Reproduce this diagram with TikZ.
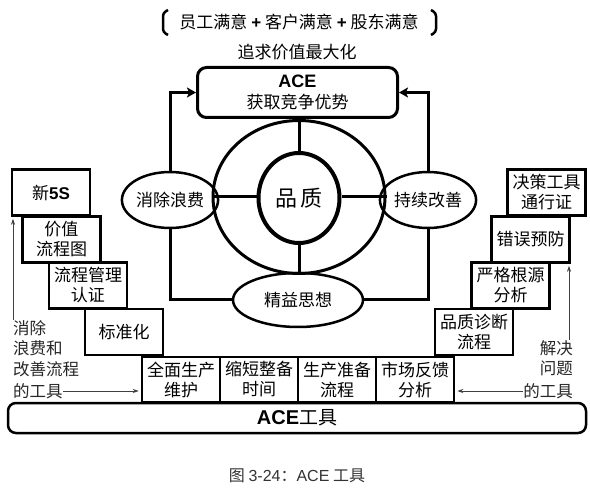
\documentclass[tikz,border=0pt]{standalone}
\usepackage{fontspec}
\setmainfont{Noto Sans CJK SC}
\newfontfamily\latin{Liberation Sans}
\usetikzlibrary{arrows.meta,shapes.geometric}
\tikzset{
  stair/.style={draw, line width=2.5pt, minimum width=78pt, minimum height=46pt, inner sep=0pt, align=center, font=\fontsize{17}{20}\selectfont},
  oval/.style={draw, ellipse, line width=2.5pt, inner sep=0pt, font=\fontsize{17}{20}\selectfont},
  link/.style={line width=3pt},
  loop/.style={line width=3pt, -{Stealth[length=9pt,width=10pt,inset=2pt]}},
  hint/.style={black!75, line width=1pt, shorten >=2pt, -{Stealth[length=6pt,width=4pt]}},
  note/.style={inner sep=0pt, font=\fontsize{16.5}{20.5}\selectfont, text=black!85},
  bracket/.style={line width=2.5pt, rounded corners=3pt}
}

\begin{document}
\begin{tikzpicture}[x=1pt,y=-1pt]
\useasboundingbox (0,0) rectangle (590,492);
\node[font=\fontsize{17}{20}\selectfont] (goal) at (299,22) {员工满意 {\latin\bfseries +} 客户满意 {\latin\bfseries +} 股东满意};
\draw[bracket] (168,10) -- (163,13) -- (163,32) -- (168,35);
\draw[bracket] (431,10) -- (436,13) -- (436,32) -- (431,35);
\node[font=\fontsize{17}{20}\selectfont] (max) at (297,52) {追求价值最大化};
\node[draw, line width=3pt, rounded corners=9pt, minimum width=200pt, minimum height=50pt, inner sep=0pt, align=center, font=\fontsize{17}{21}\selectfont] (ace) at (297.5,92.5) {{\latin\bfseries\fontsize{18}{21}\selectfont ACE}\\获取竞争优势};

\node[draw, ellipse, line width=3pt, minimum width=172pt, minimum height=153pt, inner sep=0pt] (outer) at (299,197) {};
\node[draw, ellipse, line width=4pt, minimum width=81pt, minimum height=90pt, inner sep=0pt, font=\fontsize{22}{24}\selectfont] (core) at (299,198) {品\,质};
\draw[link] (outer.north) -- (core.north);
\draw[link] (core.south) -- (outer.south);
\draw[link] (outer.west) -- (outer.west -| core.west);
\draw[link] (outer.east) -- (outer.east -| core.east);

\node[oval, minimum width=90pt, minimum height=56pt] (waste) at (170,200) {消除浪费};
\node[oval, minimum width=90pt, minimum height=56pt] (improve) at (428,200) {持续改善};
\node[oval, minimum width=130pt, minimum height=54pt] (lean) at (298,300) {精益思想};
\draw[loop] (waste.north) |- (ace.west);
\draw[link] (waste.south) |- (lean.west);
\draw[loop] (improve.north) |- (ace.east);
\draw[link] (improve.south) |- (lean.east);

\node[stair] (n5s) at (51,192.5) {新{\latin\bfseries 5S}};
\node[stair] (vsm) at (61.5,239.5) {价值\\流程图};
\node[stair] (pmc) at (88,285.5) {流程管理\\认证};
\node[stair] (std) at (124,332) {标准化};

\node[stair] (dtp) at (546.5,192.5) {决策工具\\通行证};
\node[stair] (errp) at (530.5,239.5) {错误预防};
\node[stair] (rca) at (510.5,285.5) {严格根源\\分析};
\node[stair] (qdp) at (474,332) {品质诊断\\流程};

\node[stair, minimum height=45pt] (tpm) at (181,379.5) {全面生产\\维护};
\node[stair, minimum height=45pt] (smed) at (259,379.5) {缩短整备\\时间};
\node[stair, minimum height=45pt] (ppap) at (337,379.5) {生产准备\\流程};
\node[stair, minimum height=45pt] (mfa) at (415,379.5) {市场反馈\\分析};

\node[draw, line width=2.5pt, rounded corners=8pt, minimum width=578pt, minimum height=30pt, inner sep=0pt, font=\fontsize{19}{22}\selectfont] (tools) at (297,418) {{\latin\bfseries\fontsize{20}{22}\selectfont ACE}工具};

\node[note, align=left, anchor=north west] (lwaste) at (13,320) {消除\\浪费和\\改善流程};
\node[note, anchor=west] (ltool) at (13,391) {的工具};
\draw[hint] (ltool.east) -- (tpm.west |- ltool.east);
\draw[hint] (lwaste.north west) -- (lwaste.north west |- n5s.south);

\node[note, align=right, anchor=north east] (rsolve) at (573,340) {解决\\问题};
\node[note, anchor=east] (rtool) at (573,391) {的工具};
\draw[hint] (rtool.west) -- (mfa.east |- rtool.west);
\draw[hint] ([xshift=-4pt]rsolve.north east) -- ([xshift=-4pt]rsolve.north east |- errp.south);

\node[font=\fontsize{16}{18}\selectfont, text=black!80] (cap) at (297,476) {图 {\latin 3-24}：{\latin ACE} 工具};
\end{tikzpicture}
\end{document}
